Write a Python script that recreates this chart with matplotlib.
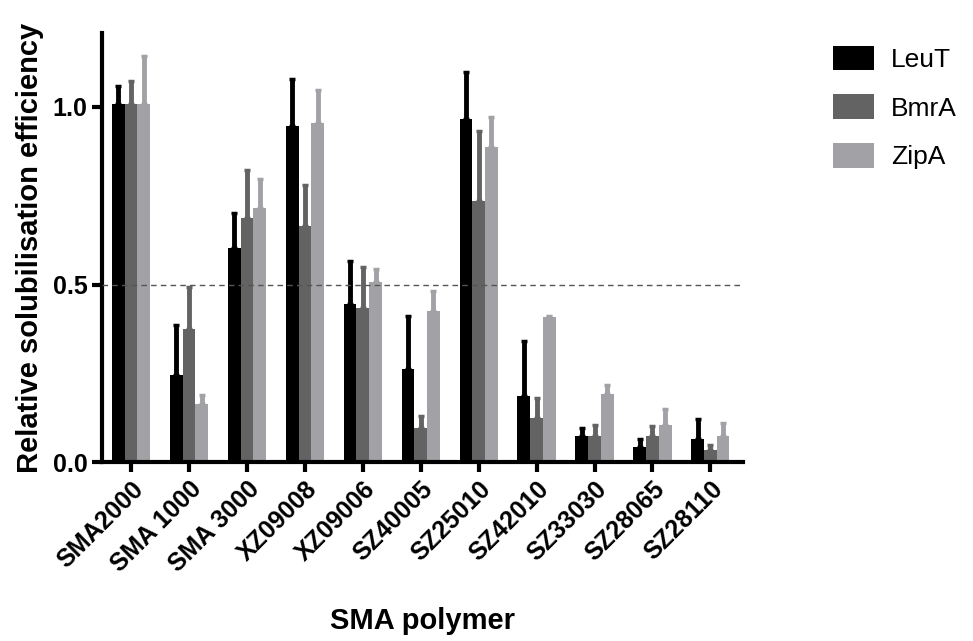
import numpy as np
import matplotlib.pyplot as plt
from matplotlib.patches import Patch

# ── Dati ───────────────────────────────────────────────────────
polimeri = ["SMA2000", "SMA 1000", "SMA 3000", "XZ09008", "XZ09006", "SZ40005",
            "SZ25010", "SZ42010", "SZ33030", "SZ28065", "SZ28110"]

leut      = [1.007, 0.244, 0.604, 0.946, 0.446, 0.263, 0.967, 0.185, 0.073, 0.044, 0.064]
leut_top  = [1.059, 0.385, 0.701, 1.079, 0.567, 0.410, 1.099, 0.340, 0.097, 0.064, 0.122]
bmra      = [1.007, 0.376, 0.687, 0.665, 0.434, 0.096, 0.736, 0.124, 0.073, 0.073, 0.033]
bmra_top  = [1.072, 0.493, 0.822, 0.779, 0.549, 0.129, 0.932, 0.181, 0.104, 0.101, 0.049]
zipa      = [1.007, 0.164, 0.716, 0.956, 0.506, 0.425, 0.886, 0.408, 0.193, 0.105, 0.073]
zipa_top  = [1.144, 0.188, 0.797, 1.048, 0.545, 0.482, 0.972, 0.410, 0.218, 0.150, 0.110]

serie = [("LeuT", leut, leut_top, "#000000"),
         ("BmrA", bmra, bmra_top, "#636363"),
         ("ZipA", zipa, zipa_top, "#a2a2a6")]

plt.rcParams['font.family'] = ['Liberation Sans', 'DejaVu Sans']

fig = plt.figure(figsize=(9.73, 6.41), dpi=100)
ax = fig.add_axes([0.105, 0.279, 0.659, 0.669])

x = np.arange(len(polimeri))
w = 0.22
for i, (nome, val, top, col) in enumerate(serie):
    pos = x + (i - 1) * w
    val = np.array(val)
    err = np.array(top) - val
    ax.bar(pos, val, width=w, color=col, edgecolor='none', zorder=2)
    ax.errorbar(pos, val, yerr=[np.zeros_like(err), err], fmt='none',
                ecolor=col, elinewidth=3.5, capsize=2.5, capthick=2.5, zorder=2)

# soglia 0.5
ax.axhline(0.5, color='#555555', linestyle=(0, (4, 3)), linewidth=1.0, zorder=3)

ax.set_xlim(-0.5, 10.57)
ax.set_ylim(0, 1.207)
ax.set_yticks([0.0, 0.5, 1.0])
ax.set_yticklabels(["0.0", "0.5", "1.0"], fontweight='bold', fontsize=18)
ax.set_xticks(x)
ax.set_xticklabels(polimeri, rotation=45, ha='right', rotation_mode='anchor',
                   fontweight='bold', fontsize=18)

for s in ['top', 'right']:
    ax.spines[s].set_visible(False)
for s in ['left', 'bottom']:
    ax.spines[s].set_linewidth(3)
ax.tick_params(width=3, length=7)

ax.set_ylabel("Relative solubilisation efficiency", fontsize=21, fontweight='bold',
              labelpad=6)
ax.set_xlabel("SMA polymer", fontsize=21, fontweight='bold', labelpad=22)

handles = [Patch(facecolor=c, edgecolor='none', label=n) for n, _, _, c in serie]
fig.legend(handles=handles, loc='upper left', bbox_to_anchor=(0.832, 0.966),
           frameon=False, fontsize=19, handlelength=1.55, handleheight=1.06,
           labelspacing=0.85, handletextpad=0.65)

plt.savefig("out.png", dpi=100)
